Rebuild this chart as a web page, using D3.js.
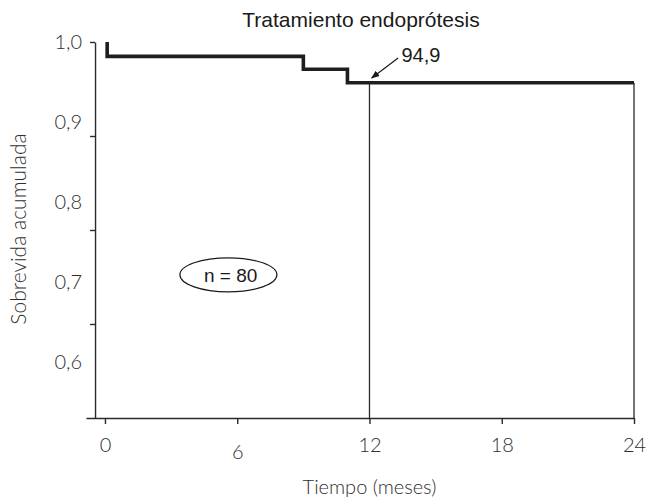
<!DOCTYPE html>
<html>
<head>
<meta charset="utf-8">
<script src="https://cdn.jsdelivr.net/npm/d3@7"></script>
<style>
  html, body { margin: 0; padding: 0; background: #fff; }
  svg { display: block; }
</style>
</head>
<body>
<svg id="chart" width="646" height="502"></svg>
<script>
// ---- data ----
const times    = [0.1, 0.1, 9, 11, 24];               // months
const survival = [1.0, 0.982, 0.966, 0.949, 0.949];  // cumulative survival
const xTicks   = [0, 6, 12, 18, 24];
const yTicks   = [1.0, 0.9, 0.8, 0.7, 0.6];
const yTickLabels = ["1,0", "0,9", "0,8", "0,7", "0,6"];
const title    = "Tratamiento endoprótesis";
const xTitle   = "Tiempo (meses)";
const yTitle   = "Sobrevida acumulada";
const markTime = 12;
const markValue = 0.949;
const markLabel = "94,9";
const nLabel   = "n = 80";

// ---- layout ----
const svg = d3.select("#chart");
const axisColor = "#2a2a2a";
const labelColor = "#2f2f2f";
const labelFont = "Lato, 'Open Sans', sans-serif";
const textFont = "'Liberation Sans', Arial, sans-serif";

const x = d3.scaleLinear().domain([-0.86, 24]).range([86, 634]);
// value scale (used for data and labels)
const y = d3.scaleLinear().domain([0.53, 1.0]).range([418, 42]);
// tick-mark scale (tick marks of the original are spaced differently from labels)
const yT = d3.scaleLinear().domain([0.6, 1.0]).range([418, 42]);

// y axis (line + tick marks)
const yAxisG = svg.append("g")
  .attr("transform", `translate(${x(-0.45)},0)`)
  .call(d3.axisLeft(yT).tickValues(yTicks.slice(0, 4)).tickSize(5).tickSizeOuter(0).tickFormat(""));
yAxisG.select(".domain").attr("stroke", axisColor).attr("stroke-width", 1.4);
yAxisG.selectAll(".tick line").attr("stroke", axisColor).attr("stroke-width", 1.4);

// y tick labels
const yLab = svg.append("g")
  .attr("transform", `translate(${x(-0.45) - 13},0)`)
  .call(d3.axisLeft(y).tickValues(yTicks).tickSize(0).tickFormat((d, i) => yTickLabels[i]));
yLab.select(".domain").remove();
yLab.selectAll(".tick text")
  .attr("x", 0)
  .attr("fill", labelColor)
  .style("font-family", labelFont)
  .style("font-weight", 300)
  .style("font-size", "20px");

// x axis
const xAxisG = svg.append("g")
  .attr("transform", `translate(0,${y(0.53)})`)
  .call(d3.axisBottom(x).tickValues(xTicks).tickSize(6).tickSizeOuter(0).tickFormat(d => d));
xAxisG.select(".domain").attr("stroke", axisColor).attr("stroke-width", 1.4);
xAxisG.selectAll(".tick line").attr("stroke", axisColor).attr("stroke-width", 1.4);
xAxisG.selectAll(".tick text")
  .attr("y", 20)
  .attr("dy", d => d === 6 ? "1.05em" : "0.71em")
  .attr("fill", labelColor)
  .style("font-family", labelFont)
  .style("font-weight", 300)
  .style("font-size", "20px");

// vertical reference lines at 12 and 24 months
svg.append("g").selectAll("line")
  .data([markTime, 24])
  .join("line")
  .attr("x1", d => x(d)).attr("x2", d => x(d))
  .attr("y1", y(markValue)).attr("y2", y(0.53))
  .attr("stroke", axisColor).attr("stroke-width", 1.3);

// survival step curve
const pts = times.map((t, i) => [t, survival[i]]);
svg.append("path")
  .datum(pts)
  .attr("d", d3.line().x(d => x(d[0])).y(d => y(d[1])).curve(d3.curveStepAfter))
  .attr("fill", "none")
  .attr("stroke", "#1e1e1e")
  .attr("stroke-width", 3.6)
  .attr("stroke-linejoin", "miter");

// title
svg.append("text")
  .attr("x", 361).attr("y", 27)
  .attr("text-anchor", "middle")
  .attr("fill", "#1a1a1a")
  .style("font-family", textFont)
  .style("font-size", "21px")
  .text(title);

// annotation arrow
const defs = svg.append("defs");
defs.append("marker")
  .attr("id", "arr").attr("viewBox", "0 0 10 10")
  .attr("refX", 9).attr("refY", 5)
  .attr("markerWidth", 7).attr("markerHeight", 7)
  .attr("orient", "auto")
  .append("path").attr("d", "M0,1 L10,5 L0,9 Z").attr("fill", "#1a1a1a");
svg.append("line")
  .attr("x1", x(13.3)).attr("y1", y(0.98))
  .attr("x2", x(12.1)).attr("y2", y(0.955))
  .attr("stroke", "#1a1a1a").attr("stroke-width", 1.2)
  .attr("marker-end", "url(#arr)");
svg.append("text")
  .attr("x", x(13.45)).attr("y", y(0.975))
  .attr("fill", "#1a1a1a")
  .style("font-family", textFont)
  .style("font-size", "20px")
  .text(markLabel);

// n = 80 ellipse
svg.append("ellipse")
  .attr("cx", x(5.6)).attr("cy", y(0.709))
  .attr("rx", 48.5).attr("ry", 17)
  .attr("fill", "none").attr("stroke", "#1a1a1a").attr("stroke-width", 1.2);
svg.append("text")
  .attr("x", x(5.7)).attr("y", y(0.709))
  .attr("dy", "0.36em")
  .attr("text-anchor", "middle")
  .attr("fill", "#1a1a1a")
  .style("font-family", textFont)
  .style("font-size", "19px")
  .text(nLabel);

// axis titles
svg.append("text")
  .attr("x", x(12)).attr("y", 494)
  .attr("text-anchor", "middle")
  .attr("fill", labelColor)
  .style("font-family", labelFont)
  .style("font-weight", 300)
  .style("font-size", "20px")
  .text(xTitle);
svg.append("text")
  .attr("transform", `translate(26,229) rotate(-90)`)
  .attr("text-anchor", "middle")
  .attr("fill", labelColor)
  .style("font-family", labelFont)
  .style("font-weight", 300)
  .style("font-size", "21px")
  .text(yTitle);
</script>
</body>
</html>
